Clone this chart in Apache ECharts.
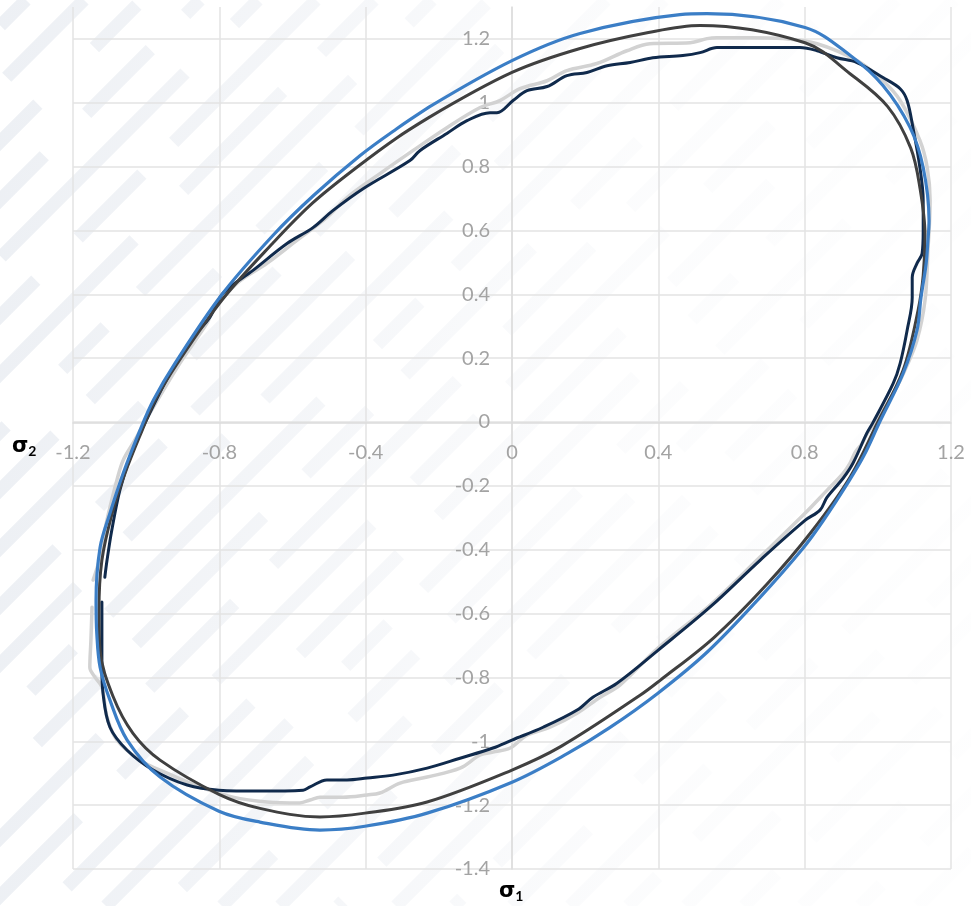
<!DOCTYPE html>
<html><head><meta charset="utf-8">
<script src="https://cdn.jsdelivr.net/npm/echarts@6/dist/echarts.min.js"></script>
<style>html,body{margin:0;padding:0;background:#fff}#c{width:971px;height:906px}</style>
</head><body><div id="c"></div>
<script>
// axis ticks
const xTicks = [-1.2, -0.8, -0.4, 0, 0.4, 0.8, 1.2];
const yTicks = [-1.4, -1.2, -1.0, -0.8, -0.6, -0.4, -0.2, 0, 0.2, 0.4, 0.6, 0.8, 1.0, 1.2];
const yTop = 1.3;
const xName = 'σ1';
const yName = 'σ2';

// Series 1: outer (blue) yield ellipse [σ1, σ2]
const blueCurve = [
[-0.226,0.987],[0,1.132],[0.186,1.217],[0.459,1.276],[0.533,1.279],[0.801,1.236],[0.924,1.149],[1.014,1.054],[1.088,0.923],[1.124,0.797],[1.140,0.631],[1.137,0.569],[1.132,0.496],[1.118,0.390],[1.107,0.287],[1.069,0.152],[1.005,0],[0.962,-0.105],[0.921,-0.185],[0.850,-0.310],[0.795,-0.396],[0.678,-0.549],[0.536,-0.718],[0.398,-0.850],[0.266,-0.958],[0.152,-1.038],[0,-1.128],[-0.232,-1.225],[-0.402,-1.266],[-0.525,-1.278],[-0.689,-1.253],[-0.801,-1.219],[-0.962,-1.112],[-1.052,-0.996],[-1.099,-0.871],[-1.126,-0.768],[-1.135,-0.662],[-1.137,-0.559],[-1.126,-0.393],[-1.099,-0.286],[-1.063,-0.161],[-1.017,-0.026],[-0.980,0.069],[-0.920,0.186],[-0.794,0.398],[-0.653,0.585],[-0.541,0.711],[-0.415,0.835],[-0.316,0.918],[-0.226,0.987]
];

// Series 2: inner (dark grey) yield ellipse
const darkCurve = [
[-0.230,0.952],[0,1.095],[0.186,1.170],[0.373,1.220],[0.514,1.242],[0.801,1.188],[0.924,1.091],[1.027,0.988],[1.090,0.858],[1.115,0.734],[1.129,0.585],[1.124,0.459],[1.110,0.350],[1.069,0.162],[1.000,0],[0.924,-0.173],[0.817,-0.346],[0.696,-0.509],[0.552,-0.675],[0.405,-0.809],[0.350,-0.856],[0.134,-1.016],[0,-1.090],[-0.232,-1.190],[-0.402,-1.225],[-0.525,-1.237],[-0.689,-1.210],[-0.801,-1.166],[-0.962,-1.059],[-1.036,-0.975],[-1.091,-0.858],[-1.126,-0.715],[-1.129,-0.590],[-1.121,-0.433],[-1.093,-0.286],[-1.058,-0.161],[-1.011,-0.026],[-0.975,0.069],[-0.913,0.187],[-0.790,0.386],[-0.654,0.560],[-0.544,0.687],[-0.416,0.805],[-0.315,0.890],[-0.230,0.952]
];

// Series 3: light grey measured locus
const lightCurve = [
[-1.148,-0.580],[-1.151,-0.683],[-1.154,-0.768],[-1.140,-0.799],[-1.121,-0.830],[-1.107,-0.924],[-1.080,-0.996],[-1.017,-1.059],[-0.943,-1.100],[-0.853,-1.143],[-0.763,-1.175],[-0.670,-1.190],[-0.580,-1.193],[-0.552,-1.184],[-0.525,-1.175],[-0.462,-1.175],[-0.396,-1.168],[-0.361,-1.162],[-0.306,-1.131],[-0.232,-1.112],[-0.142,-1.084],[-0.087,-1.043],[-0.052,-1.034],[-0.005,-1.021],[0.041,-0.981],[0.104,-0.956],[0.178,-0.912],[0.241,-0.862],[0.295,-0.824],[0.399,-0.708],[0.541,-0.574],[0.678,-0.423],[0.801,-0.286],[0.861,-0.214],[0.905,-0.161],[0.924,-0.129],[0.938,-0.095],[0.957,-0.067],[0.973,-0.032],[1.006,0.021],[1.047,0.099],[1.074,0.162],[1.107,0.256],[1.129,0.381],[1.137,0.537],[1.143,0.694],[1.135,0.797],[1.115,0.882],[1.061,1.007],[1.014,1.069],[0.943,1.132],[0.834,1.185],[0.741,1.201],[0.651,1.204],[0.560,1.204],[0.533,1.201],[0.487,1.188],[0.377,1.185],[0.314,1.163],[0.232,1.123],[0.150,1.101],[0.096,1.069],[0.022,1.044],[-0.033,1.007],[-0.087,0.985],[-0.178,0.922],[-0.271,0.850],[-0.361,0.778],[-0.451,0.703],[-0.506,0.641],[-0.588,0.569],[-0.670,0.497],[-0.752,0.434],[-0.817,0.350],[-0.834,0.309],[-0.908,0.184],[-0.998,0.012],[-1.031,-0.057],[-1.063,-0.120],[-1.080,-0.182],[-1.099,-0.267],[-1.113,-0.339],[-1.126,-0.423],[-1.145,-0.495]
];

// Series 4: navy measured locus
const navyCurve = [
[-1.121,-0.564],[-1.121,-0.683],[-1.121,-0.768],[-1.118,-0.849],[-1.099,-0.956],[-1.052,-1.028],[-0.981,-1.090],[-0.888,-1.137],[-0.801,-1.153],[-0.689,-1.156],[-0.571,-1.153],[-0.552,-1.143],[-0.506,-1.121],[-0.451,-1.121],[-0.396,-1.115],[-0.325,-1.106],[-0.232,-1.084],[-0.142,-1.053],[-0.052,-1.021],[0,-0.996],[0.085,-0.956],[0.178,-0.902],[0.221,-0.862],[0.287,-0.818],[0.399,-0.715],[0.541,-0.580],[0.678,-0.433],[0.801,-0.308],[0.842,-0.276],[0.861,-0.236],[0.905,-0.176],[0.932,-0.129],[0.970,-0.035],[0.987,-0.001],[1.042,0.121],[1.061,0.184],[1.080,0.287],[1.094,0.390],[1.094,0.453],[1.107,0.497],[1.121,0.528],[1.124,0.600],[1.124,0.694],[1.115,0.797],[1.096,0.922],[1.080,1.007],[1.061,1.044],[1.014,1.079],[0.943,1.126],[0.888,1.141],[0.834,1.163],[0.787,1.173],[0.651,1.173],[0.560,1.173],[0.514,1.157],[0.467,1.148],[0.385,1.141],[0.323,1.126],[0.260,1.116],[0.205,1.095],[0.150,1.085],[0.096,1.051],[0.041,1.038],[0.003,1.007],[-0.041,0.969],[-0.060,0.969],[-0.123,0.944],[-0.178,0.904],[-0.252,0.850],[-0.279,0.819],[-0.407,0.731],[-0.489,0.663],[-0.544,0.609],[-0.615,0.559],[-0.708,0.475],[-0.790,0.403],[-0.826,0.328],[-0.872,0.265],[-0.935,0.152],[-1.009,-0.017],[-1.044,-0.110],[-1.072,-0.214],[-1.094,-0.339],[-1.107,-0.433],[-1.113,-0.486]
];

const chart = echarts.init(document.getElementById('c'), null, {renderer: 'canvas'});

// decorative diagonal background stripes
const stripes = [];
const fade = new echarts.graphic.LinearGradient(0, 0, 971, 0, [
  {offset: 0, color: 'rgba(205,213,225,0.36)'},
  {offset: 0.35, color: 'rgba(210,217,228,0.22)'},
  {offset: 0.65, color: 'rgba(215,221,231,0.09)'},
  {offset: 1, color: 'rgba(220,225,233,0.04)'}
], true);
const dashes = [[220,60,90,45],[140,55,260,70],[300,80,60,50],[90,50,180,60],[260,70,120,55]];
for (let i = 0, x0 = -880; x0 < 980; x0 += 58, i++) {
  stripes.push({
    type: 'line', silent: true, z: -10,
    shape: {x1: x0, y1: 906, x2: x0 + 906, y2: 0},
    style: {stroke: fade, lineWidth: 13, lineDash: dashes[i % dashes.length], lineDashOffset: (i * 73) % 200}
  });
}

const axisLabelStyle = {color: '#a3a3a3', fontSize: 20, fontFamily: 'Lato, "Open Sans", sans-serif'};
const gridColor = '#e3e3e3';

function sub(name) { return '{a|' + name.charAt(0) + '}{b|' + name.slice(1) + '}'; }
const nameRich = {
  a: {fontSize: 21, fontWeight: 'bold', color: '#404040', fontFamily: '"DejaVu Sans", sans-serif'},
  b: {fontSize: 14, fontWeight: 'bold', color: '#404040', fontFamily: 'Lato, sans-serif', padding: [10, 0, 0, 0]}
};

const lineSeries = (name, data, color, width, z) => ({
  name, type: 'line', data, showSymbol: false, symbol: 'none', smooth: 0.35,
  z, lineStyle: {color, width, cap: 'round', join: 'round'}, silent: true, animation: false
});

chart.setOption({
  backgroundColor: '#ffffff',
  animation: false,
  grid: {left: 73, right: 20, top: 7, bottom: 37, containLabel: false},
  xAxis: {
    type: 'value', min: xTicks[0], max: xTicks[xTicks.length - 1], interval: 0.4,
    position: 'bottom',
    axisLine: {show: true, onZero: false, lineStyle: {color: '#dcdcdc', width: 1.5}},
    axisTick: {show: false},
    axisLabel: Object.assign({margin: 19}, axisLabelStyle),
    splitLine: {show: true, lineStyle: {color: gridColor, width: 1.5}}
  },
  yAxis: {
    type: 'value', min: yTicks[0], max: yTop, interval: 0.2,
    position: 'left',
    axisLine: {show: true, onZero: false, lineStyle: {color: '#dcdcdc', width: 1.5}},
    axisTick: {show: false},
    axisLabel: Object.assign({margin: 22, showMaxLabel: false}, axisLabelStyle),
    splitLine: {show: true, showMaxLine: false, lineStyle: {color: gridColor, width: 1.5}}
  },
  graphic: stripes.concat([
    {type: 'text', left: 12, top: 436, silent: true, style: {text: sub(yName), rich: nameRich}},
    {type: 'text', left: 499, top: 881, silent: true, style: {text: sub(xName), rich: nameRich}}
  ]),
  series: [
    lineSeries('light', lightCurve, '#d2d2d2', 3.5, 2),
    lineSeries('navy', navyCurve, '#102a4c', 3, 3),
    lineSeries('dark', darkCurve, '#404040', 3, 4),
    lineSeries('blue', blueCurve, '#3b7ec6', 3.2, 5)
  ]
});

// move both axes so that they cross at the origin (value 0 on the other axis)
const xZero = chart.convertToPixel({xAxisIndex: 0}, 0);
const xMinPx = chart.convertToPixel({xAxisIndex: 0}, xTicks[0]);
const yZero = chart.convertToPixel({yAxisIndex: 0}, 0);
const yMinPx = chart.convertToPixel({yAxisIndex: 0}, yTicks[0]);
chart.setOption({
  yAxis: {offset: -(xZero - xMinPx)},
  xAxis: {offset: -(yMinPx - yZero)}
});
</script></body></html>
